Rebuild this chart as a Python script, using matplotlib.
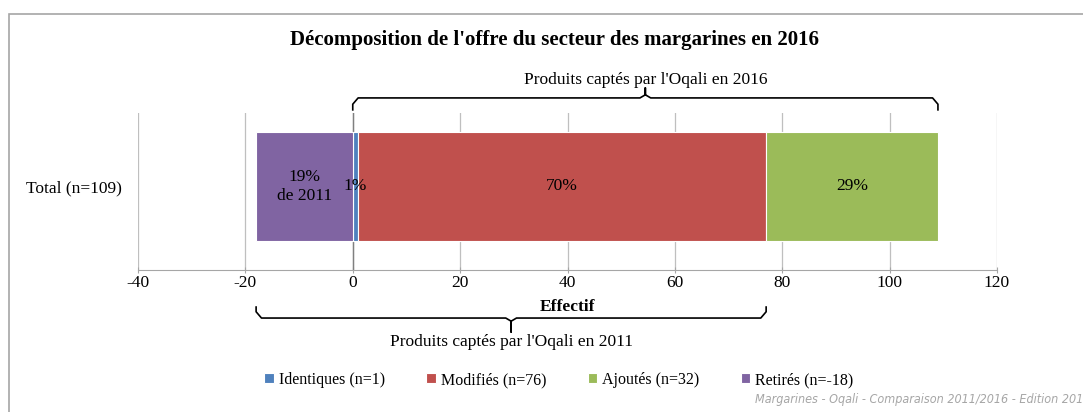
import matplotlib.pyplot as plt
import matplotlib.transforms as mtransforms
from matplotlib.patches import Rectangle

# données
categories = ["Total (n=109)"]
series_names = ["Identiques (n=1)", "Modifiés (n=76)", "Ajoutés (n=32)", "Retirés (n=-18)"]
series_values = [1, 76, 32, -18]
series_colors = ["#4F81BD", "#C0504D", "#9BBB59", "#8064A2"]
bar_labels = ["1%", "70%", "29%", "19%\nde 2011"]
x_ticks = [-40, -20, 0, 20, 40, 60, 80, 100, 120]

plt.rcParams["font.family"] = ["Liberation Serif", "DejaVu Serif"]
plt.rcParams["axes.unicode_minus"] = False

fs = 12.5

fig = plt.figure(figsize=(10.83, 4.12), dpi=100)
ax = fig.add_axes([138 / 1083, 1 - 270 / 412, 859 / 1083, 157 / 412])

# cadre gris autour du graphique
fig.patches.append(Rectangle((9 / 1083, -0.1), 1.2, 1 - 14 / 412 + 0.1, transform=fig.transFigure,
                             fill=False, edgecolor="#A6A6A6", linewidth=1.2))

# barres empilées (positives vers la droite, négatives vers la gauche)
pos_left = 0
neg_left = 0
for name, val, col, lab in zip(series_names, series_values, series_colors, bar_labels):
    if val >= 0:
        left = pos_left
        pos_left += val
    else:
        left = neg_left
        neg_left += val
    ax.barh(categories, [val], left=left, height=0.694, color=col, label=name,
            edgecolor="white", linewidth=0.8, zorder=3)
    ax.text(left + val / 2, 0, lab, ha="center", va="center", fontsize=fs, zorder=4, linespacing=1.25)

ax.set_ylim(-0.532, 0.468)
ax.set_xlim(-40, 120)
ax.set_xticks(x_ticks)
ax.tick_params(axis="x", labelsize=fs, length=5, direction="inout", color="#A6A6A6", pad=1)
ax.tick_params(axis="y", labelsize=fs, length=0, pad=11.5)
ax.grid(axis="x", color="#BFBFBF", linewidth=0.9, zorder=0)
for s in ["top", "right", "left"]:
    ax.spines[s].set_visible(False)
ax.spines["bottom"].set_color("#A6A6A6")
ax.axvline(0, color="#808080", linewidth=1.0, zorder=2)

ax.set_xlabel("Effectif", fontsize=fs, fontweight="bold", labelpad=6)

# accolades
trans = mtransforms.blended_transform_factory(ax.transData, ax.transAxes)

def accolade(x0, x1, xm, y_end, y_line, y_tip, text, y_text):
    r = 1.0
    sgn = 1 if y_line > y_end else -1
    d = 0.04 * sgn
    xs = [x0, x0, x0 + r, xm - r, xm, xm, xm, xm + r, x1 - r, x1, x1]
    ys = [y_end, y_line - d, y_line, y_line, y_line + d / 2, y_tip, y_line + d / 2, y_line, y_line, y_line - d, y_end]
    ax.plot(xs, ys, color="black", linewidth=1.2, transform=trans, clip_on=False, zorder=5)
    ax.text(xm, y_text, text, ha="center", va="center", fontsize=fs, transform=trans)

accolade(0, 109, 54.5, 1.02, 1.096, 1.16, "Produits captés par l'Oqali en 2016", 1.21)
accolade(-18, 77, 29.5, -0.236, -0.306, -0.395, "Produits captés par l'Oqali en 2011", -0.46)

fig.suptitle("Décomposition de l'offre du secteur des margarines en 2016", x=0.512, y=1 - 40 / 412,
             va="center", fontsize=15, fontweight="bold")

fig.legend(loc="center", bbox_to_anchor=(0.516, 1 - 380 / 412), ncol=4, frameon=False,
           fontsize=11.5, handlelength=0.6, handleheight=0.6, handletextpad=0.3, columnspacing=2.6)

fig.text(1.0, 1 - 400 / 412, "Margarines - Oqali - Comparaison 2011/2016 - Edition 201", ha="right",
         va="center", fontsize=9, style="italic", color="#A6A6A6",
         family="DejaVu Sans", stretch="condensed")

fig.savefig("out.png", dpi=100)
